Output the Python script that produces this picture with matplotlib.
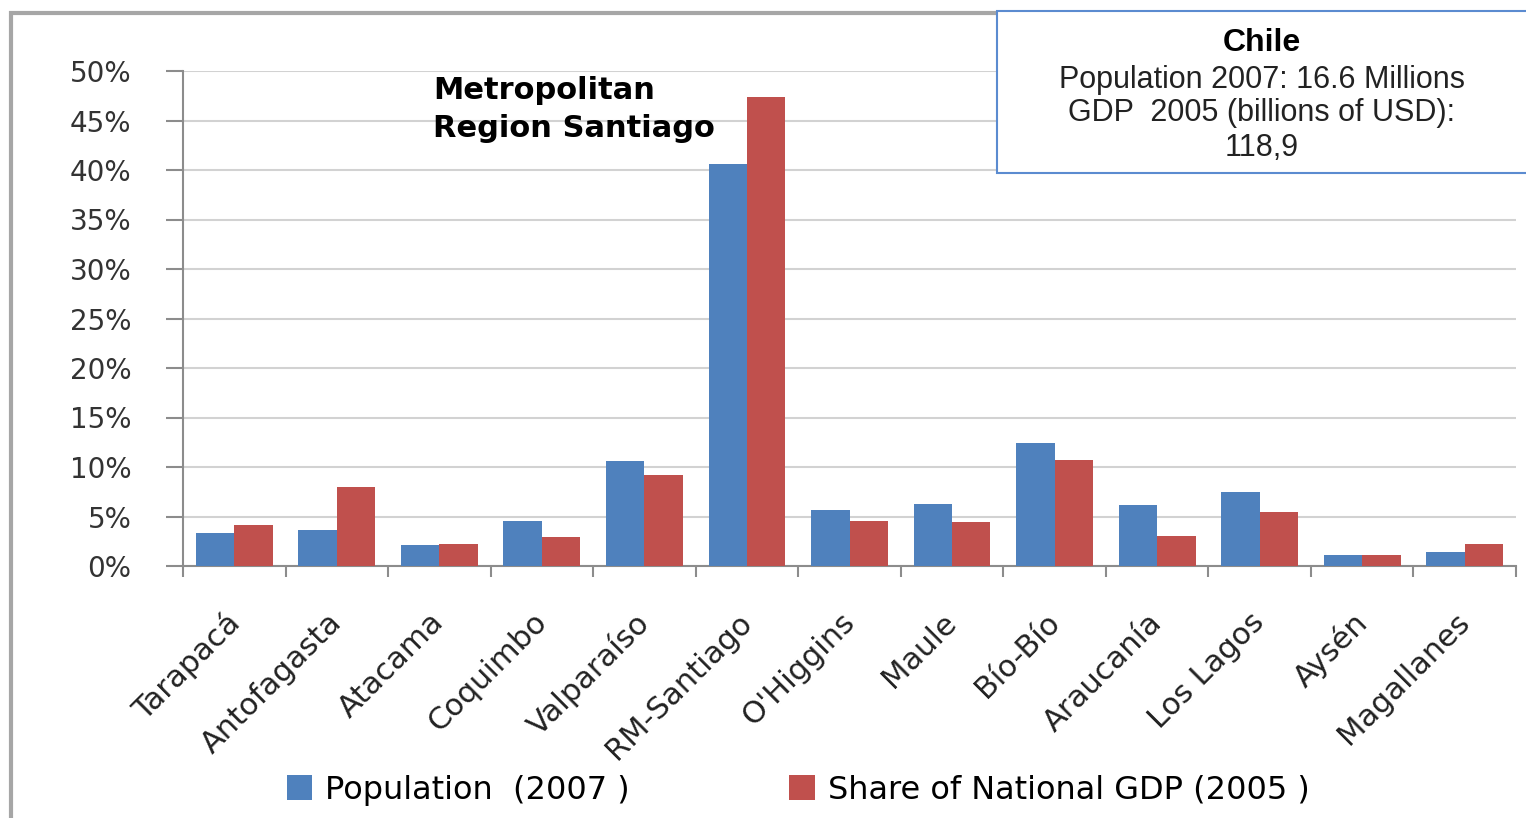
import numpy as np
import matplotlib
matplotlib.use("Agg")
import matplotlib.pyplot as plt
from matplotlib.patches import Rectangle
from matplotlib.ticker import FixedLocator, NullFormatter
from matplotlib.transforms import ScaledTranslation

regions = ['Tarapacá', 'Antofagasta', 'Atacama', 'Coquimbo', 'Valparaíso',
           'RM-Santiago', "O'Higgins", 'Maule', 'Bío-Bío', 'Araucanía',
           'Los Lagos', 'Aysén', 'Magallanes']
population = [3.3, 3.6, 2.1, 4.5, 10.6, 40.6, 5.7, 6.3, 12.4, 6.2, 7.5, 1.1, 1.4]
gdp_share = [4.1, 8.0, 2.2, 2.9, 9.2, 47.4, 4.5, 4.4, 10.7, 3.0, 5.5, 1.1, 2.2]
y_ticks = [0, 5, 10, 15, 20, 25, 30, 35, 40, 45, 50]
info_lines = ['Population 2007: 16.6 Millions', 'GDP  2005 (billions of USD):', '118,9']

blue = '#4f81bd'
red = '#c0504d'
grid_col = '#d2d2d2'
axis_col = '#8c8c8c'

W, H = 1526, 818
fig = plt.figure(figsize=(W / 100, H / 100), dpi=100)
ax = fig.add_axes([183 / W, 1 - 566 / H, (1516 - 183) / W, (566 - 71) / H])

x = np.arange(len(regions))
w = 0.375
ax.bar(x - w / 2, population, width=w, color=blue, zorder=3, label='Population  (2007 )')
ax.bar(x + w / 2, gdp_share, width=w, color=red, zorder=3, label='Share of National GDP (2005 )')

ax.set_xlim(-0.5, len(regions) - 0.5)
ax.set_ylim(0, 50)

# y axis
ax.set_yticks(y_ticks)
ax.set_yticklabels([f'{t}%' for t in y_ticks], fontsize=20, color='#333333')
ax.tick_params(axis='y', length=12, width=1.5, color=axis_col, pad=25)
ax.yaxis.grid(True, color=grid_col, linewidth=1.5, zorder=0)

# x axis: tick marks between categories, labels at centers
ax.xaxis.set_major_locator(FixedLocator(np.arange(-0.5, len(regions), 1.0)))
ax.xaxis.set_major_formatter(NullFormatter())
ax.xaxis.set_minor_locator(FixedLocator(x))
ax.set_xticklabels(regions, minor=True, rotation=45, ha='right',
                   rotation_mode='anchor', fontsize=22, color='#222222')
ax.tick_params(axis='x', which='major', length=8, width=1.5, color=axis_col, direction='out')
ax.tick_params(axis='x', which='minor', length=0, pad=30)
shift = ScaledTranslation(-10 / 100, 0, fig.dpi_scale_trans)
for lab in ax.xaxis.get_minorticklabels():
    lab.set_transform(lab.get_transform() + shift)

for s in ['top', 'right']:
    ax.spines[s].set_visible(False)
for s in ['left', 'bottom']:
    ax.spines[s].set_color(axis_col)
    ax.spines[s].set_linewidth(1.5)

fig.text(433 / W, 1 - 76 / H, 'Metropolitan\nRegion Santiago',
         fontsize=22, fontweight='bold', va='top', ha='left', linespacing=1.4)

# outer frame
fig.patches.append(Rectangle((11 / W, -0.1), 1.2, 1 - 13 / H + 0.1,
                             transform=fig.transFigure, fill=False,
                             edgecolor='#a6a6a6', linewidth=3))

# info box
fig.patches.append(Rectangle((997 / W, 1 - 173 / H), 0.5, 162 / H,
                             transform=fig.transFigure, facecolor='white',
                             edgecolor='#5b8bd0', linewidth=1.5, zorder=5))
fig.text(1262 / W, 1 - 43 / H, 'Chile', fontsize=23, fontweight='bold',
         family='Liberation Sans', ha='center', va='center', zorder=6)
for line, yy in zip(info_lines, [80, 113, 148]):
    fig.text(1262 / W, 1 - yy / H, line, fontsize=22, family='Liberation Sans',
             ha='center', va='center', color='#222222', zorder=6)

fig.legend(loc='center', bbox_to_anchor=(0.523, 1 - 790 / H), ncol=2,
           frameon=False, fontsize=23, handlelength=0.8, handleheight=0.8,
           columnspacing=5.0, handletextpad=0.4)

fig.savefig('out.png', dpi=100)
